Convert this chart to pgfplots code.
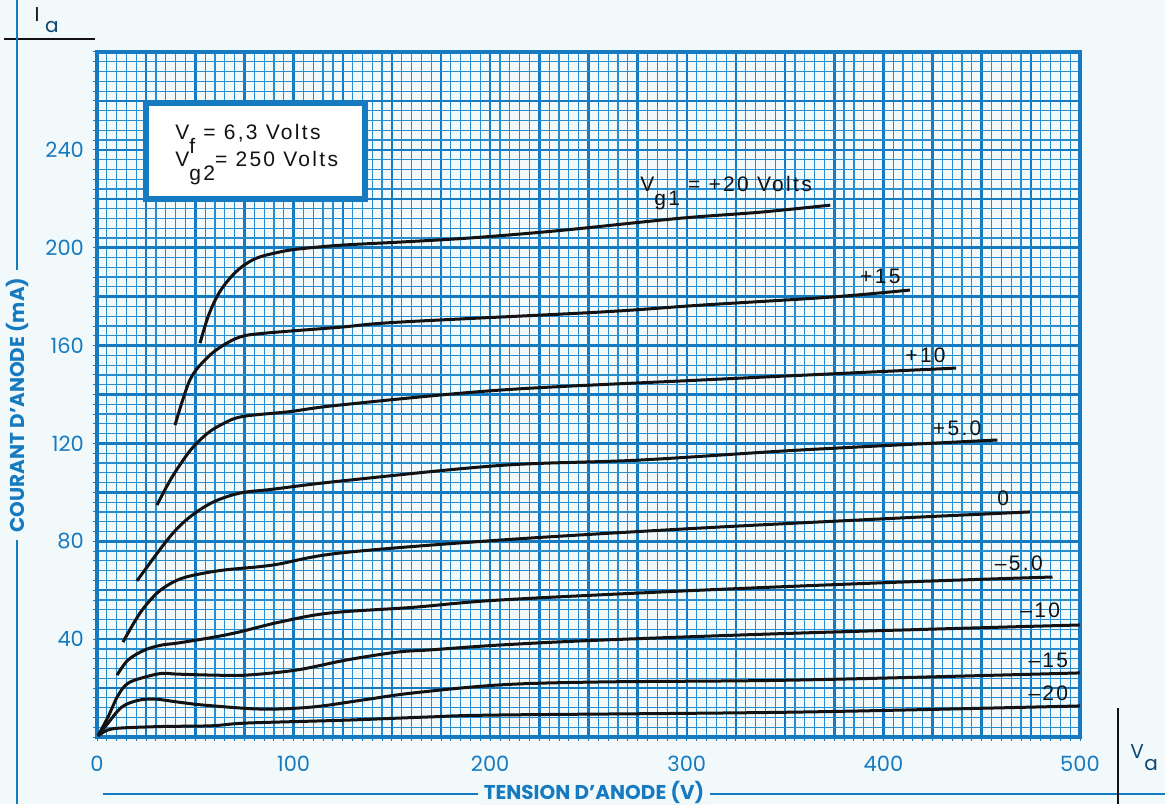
\documentclass[border=0pt]{standalone}
\usepackage{pgfplots}
\pgfplotsset{compat=1.18}
\usepackage{fontspec}
\setmainfont{Poppins}
\newfontfamily\lettering[LetterSpace=11]{Liberation Sans}
\definecolor{gridblue}{RGB}{22,122,192}
\definecolor{finegrid}{RGB}{40,140,205}
\definecolor{paper}{RGB}{242,249,251}
\definecolor{ink}{RGB}{18,18,18}
\newcommand\sub[1]{\raisebox{-1.3ex}{#1}}
\newcommand\curvelabel{\lettering\fontsize{10.5}{12}\selectfont}
\pgfplotsset{curve/.style={ink, line width=1.5pt, smooth, tension=0.55, mark=none}}

\begin{document}
\begin{tikzpicture}[x=0.5pt,y=0.5pt]
\fill[paper] (0,0) rectangle (1165,804);
\useasboundingbox (0,0) rectangle (1165,804);

% frame lines and titles outside the graph paper
\draw[ink, line width=1.2pt] (4,765) -- (95,765);
\draw[gridblue, line width=1.2pt] (17,0) -- (17,804);
\draw[gridblue, line width=1.2pt] (103,10) -- (1165,10);
\draw[ink, line width=1.2pt] (1118,0) -- (1118,96);
\node[rotate=90, fill=paper, inner xsep=4pt, inner ysep=1pt, text=gridblue,
      font=\bfseries\fontsize{10}{11}\selectfont] at (17,399) {COURANT D’ANODE (mA)};
\node[anchor=base, fill=paper, inner xsep=3pt, inner ysep=1pt, text=gridblue,
      font=\bfseries\fontsize{10}{11}\selectfont] at (594,5) {TENSION D’ANODE (V)};
\node[anchor=base, text=ink, font=\fontsize{10}{12}\selectfont] at (37,782) {I};
\node[anchor=base, text=gridblue!60!black, font=\fontsize{10}{12}\selectfont] at (52,771) {a};
\node[anchor=base, text=gridblue!60!black, font=\fontsize{10}{12}\selectfont] at (1137,46) {V};
\node[anchor=base, text=gridblue!60!black, font=\fontsize{10}{12}\selectfont] at (1151,34) {a};

\begin{axis}[
  at={(48.5pt,33.5pt)}, anchor=south west,
  scale only axis, width=491.5pt, height=342.5pt,
  xmin=0, xmax=500, ymin=0, ymax=280,
  xtick={0,25,...,500}, ytick={0,20,...,280},
  minor x tick num=4, minor y tick num=4,
  xticklabels={0,,,,100,,,,200,,,,300,,,,400,,,,500},
  yticklabels={,,40,,80,,120,,160,,200,,240,,},
  grid=both,
  major grid style={gridblue, line width=1.25pt},
  minor grid style={finegrid, line width=0.6pt},
  axis line style={gridblue, line width=2.4pt},
  xtick pos=bottom, ytick pos=left,
  tick align=outside,
  major tick length=2pt, minor tick length=2pt,
  tick style={gridblue, line width=0.5pt},
  /pgf/number format/assume math mode=true,
  ticklabel style={text=gridblue, font=\fontsize{10.5}{12}\selectfont},
  xticklabel style={yshift=-4pt},
  yticklabel style={xshift=-1pt},
]
% V_g1 = +20 V
\addplot[curve] coordinates {(52.4,161) (56.4,171.6) (61,180) (66,186) (72.7,191.6) (81,195.7) (91.5,198) (101.7,199.4) (123.6,201) (154,202.3) (190,204) (235,207) (296,212) (337,214.5) (373,217.4)};
% +15 V
\addplot[curve] coordinates {(39.7,127.5) (47.3,146) (56,155) (64,160) (72.7,163.5) (84.4,165) (123.6,167.5) (154,169.6) (256,173.7) (306.7,176.5) (373,179.8) (413.5,182.7)};
% +10 V
\addplot[curve] coordinates {(30.5,94.8) (38,106) (47.3,117) (56,124) (64,128) (74,131) (98,133) (123.6,135.7) (205,141.8) (306.7,145.9) (437,150.8)};
% +5 V
\addplot[curve] coordinates {(20.3,63.8) (30.5,75) (38.7,83.4) (47.3,90) (59,96) (72.7,99.7) (89.5,101.3) (123.6,104.6) (205,111) (276,113.2) (357.6,117.3) (458,121.4)};
% 0 V
\addplot[curve] coordinates {(13.2,38.8) (21.9,50.7) (30.5,58.8) (38.7,63.3) (47.3,65.8) (64,68.2) (89.5,70.3) (123.6,75.2) (205,80.5) (306.7,85.4) (408,89.5) (474.6,92)};
% -5 V
\addplot[curve] coordinates {(10.2,25.3) (15.8,31.5) (24.4,35.6) (33,37.6) (41,38.4) (60,40.9) (72.7,43) (93,47) (118.5,50.7) (160.7,53) (205,56) (306.7,60) (408,63.3) (486,65.4)};
% -10 V
\addplot[curve] coordinates {(0.5,0.5) (5.6,8.2) (10.7,17) (15.8,22) (24.4,24.5) (33,26) (41,25.7) (59,25.3) (76,25.3) (101.7,27.4) (127,31.5) (152.6,34.7) (169.4,35.6) (205,37.6) (256,39.6) (357.6,42.5) (500,45.8)};
% -15 V
\addplot[curve] coordinates {(0.5,0.5) (5.6,5.7) (12.7,12.3) (21,15) (29.5,15.5) (41,14.3) (55,13) (84.4,11.4) (110,12.3) (135,15.1) (160.7,18) (205,21.3) (256,22.5) (357.6,23.3) (500,26.2)};
% -20 V
\addplot[curve] coordinates {(0.5,0.5) (5.6,2.9) (12.7,3.7) (33.6,4.3) (58.5,4.6) (76,5.7) (127,6.9) (169,8.2) (205,9) (357.6,10.2) (500,12.7)};

% operating conditions box
\draw[gridblue, line width=3pt, fill=white] (axis cs:24.9,219.9) rectangle (axis cs:136.3,259.1);
\node[anchor=base west, inner sep=0pt, font=\curvelabel, text=ink] at (axis cs:39.7,244.4) {V\sub{f} = 6,3 Volts};
\node[anchor=base west, inner sep=0pt, font=\curvelabel, text=ink] at (axis cs:39.7,233.4) {V\sub{g2}= 250 Volts};

% grid voltage labels
\node[anchor=base west, inner sep=0pt, font=\curvelabel, text=ink] at (axis cs:276.2,223.1) {V\sub{g1} = +20 Volts};
\node[anchor=base west, inner sep=0pt, font=\curvelabel, text=ink] at (axis cs:388,185.5) {+15};
\node[anchor=base west, inner sep=0pt, font=\curvelabel, text=ink] at (axis cs:411,153.2) {+10};
\node[anchor=base west, inner sep=0pt, font=\curvelabel, text=ink] at (axis cs:425,123.4) {+5.0};
\node[anchor=base west, inner sep=0pt, font=\curvelabel, text=ink] at (axis cs:457.8,94.8) {0};
\node[anchor=base west, inner sep=0pt, font=\curvelabel, text=ink] at (axis cs:456.5,68.2) {–5.0};
\node[anchor=base west, inner sep=0pt, font=\curvelabel, text=ink] at (axis cs:469.5,49) {–10};
\node[anchor=base west, inner sep=0pt, font=\curvelabel, text=ink] at (axis cs:473.6,28.6) {–15};
\node[anchor=base west, inner sep=0pt, font=\curvelabel, text=ink] at (axis cs:473.6,15.1) {–20};
\end{axis}
\end{tikzpicture}
\end{document}
